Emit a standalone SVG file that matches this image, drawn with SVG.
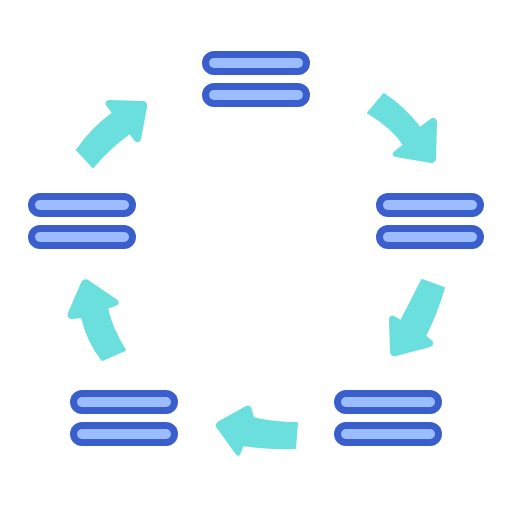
<svg xmlns="http://www.w3.org/2000/svg" width="512" height="512" viewBox="0 0 512 512">
<style>
.o{stroke:#3a5fcd;stroke-width:24;stroke-linecap:round;fill:none}
.i{stroke:#9bbcff;stroke-width:10;stroke-linecap:round;fill:none}
.a{fill:#6adfdd;stroke:#6adfdd;stroke-width:2;stroke-linejoin:round}
</style>
<defs>
<g id="pill2">
<line class="o" x1="12" y1="0" x2="96" y2="0"/>
<line class="i" x1="12" y1="0" x2="96" y2="0"/>
<line class="o" x1="12" y1="32" x2="96" y2="32"/>
<line class="i" x1="12" y1="32" x2="96" y2="32"/>
</g>
</defs>
<g id="node-top"><use href="#pill2" x="202" y="63"/></g>
<g id="node-right"><use href="#pill2" x="376" y="205"/></g>
<g id="node-left"><use href="#pill2" x="28" y="205"/></g>
<g id="node-bottom-right"><use href="#pill2" x="334" y="402"/></g>
<g id="node-bottom-left"><use href="#pill2" x="70" y="402"/></g>
<g id="connectors">
<path class="a" d="M368,113 L384,94 Q405,108 420,128 L432,119 Q436,118 436,123 L435,158 Q435,162 431,162 L396,156 Q392,155 395,152 L404,145 Q392,127 368,113 Z"/>
<path class="a" d="M422,280 L444,288 Q436,315 425,336 L431,341 Q434,344 430,346 L396,355 Q391,356 391,351 L390,320 Q390,315 394,317 L401,321 Q412,300 422,280 Z"/>
<path class="a" d="M297,423 Q272,423 253,418 L251,410 Q250,405 246,407 L219,422 Q215,425 218,428 L236,453 Q239,457 240,452 L243,445 Q268,449 295,448 Z"/>
<path class="a" d="M102,360 Q87,340 82,317 L72,318 Q67,318 69,313 L82,283 Q84,279 88,281 L116,300 Q120,303 115,305 L107,308 Q112,330 125,350 Z"/>
<path class="a" d="M77,150 Q92,128 113,113 L107,105 Q105,101 110,101 L143,102 Q147,103 146,107 L140,139 Q139,143 135,140 L130,133 Q110,147 93,167 Z"/>
</g>
</svg>
